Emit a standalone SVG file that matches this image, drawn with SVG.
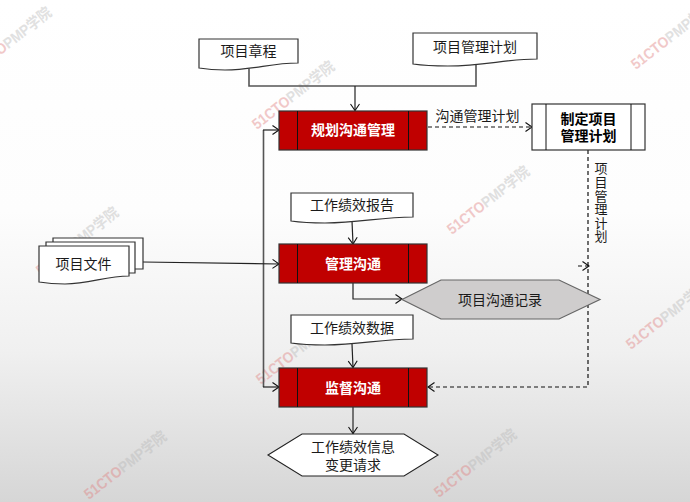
<svg xmlns="http://www.w3.org/2000/svg" width="690" height="502" viewBox="0 0 690 502">
<style>
text{font-family:"Noto Sans CJK SC","Noto Sans",sans-serif;font-size:14px;fill:#1a1a1a;text-anchor:middle}
.b{font-weight:700;fill:#000}
.w{fill:#fff;font-weight:700}
.doc{fill:#fff;stroke:#333;stroke-width:1.2}
.proc{fill:#c00000;stroke:#333;stroke-width:1.2}
.in{fill:none;stroke:#111;stroke-width:1}
.c{fill:none;stroke:#222;stroke-width:1.2}
.t{stroke:#555;stroke-width:1.6}
.d{stroke-dasharray:4 3;stroke:#111}
.a{marker-end:url(#ah)}
.wm{font-size:15px;font-weight:700;font-family:"Liberation Sans","Noto Sans CJK SC",sans-serif;fill:#b8b8b8;text-anchor:start;opacity:.42}
.wm tspan{fill:#e08080}
</style>
<defs>
<linearGradient id="bg" x1="0" y1="0" x2="0" y2="1">
<stop offset="0" stop-color="#fff"/><stop offset=".42" stop-color="#fdfdfd"/><stop offset=".7" stop-color="#f0f0f0"/><stop offset="1" stop-color="#d6d6d6"/>
</linearGradient>
<marker id="ah" markerUnits="userSpaceOnUse" markerWidth="12" markerHeight="12" refX="8" refY="6" orient="auto">
<path d="M1.500 1.500L8 6L1.500 10.500" fill="none" stroke="#111" stroke-width="1.1"/>
</marker>
</defs>
<rect width="690" height="502" fill="url(#bg)"/>
<g id="watermarks">
<text class="wm" textLength="100" lengthAdjust="spacingAndGlyphs" transform="translate(-26 76) rotate(-38)"><tspan>51CTO</tspan>PMP学院</text>
<text class="wm" textLength="100" lengthAdjust="spacingAndGlyphs" transform="translate(257 130) rotate(-38)"><tspan>51CTO</tspan>PMP学院</text>
<text class="wm" textLength="100" lengthAdjust="spacingAndGlyphs" transform="translate(636 70) rotate(-38)"><tspan>51CTO</tspan>PMP学院</text>
<text class="wm" textLength="100" lengthAdjust="spacingAndGlyphs" transform="translate(452 235) rotate(-38)"><tspan>51CTO</tspan>PMP学院</text>
<text class="wm" textLength="100" lengthAdjust="spacingAndGlyphs" transform="translate(631 350) rotate(-38)"><tspan>51CTO</tspan>PMP学院</text>
<text class="wm" textLength="100" lengthAdjust="spacingAndGlyphs" transform="translate(261 385) rotate(-38)"><tspan>51CTO</tspan>PMP学院</text>
<text class="wm" textLength="100" lengthAdjust="spacingAndGlyphs" transform="translate(89 500) rotate(-38)"><tspan>51CTO</tspan>PMP学院</text>
<text class="wm" textLength="100" lengthAdjust="spacingAndGlyphs" transform="translate(439 498) rotate(-38)"><tspan>51CTO</tspan>PMP学院</text>
<text class="wm" textLength="100" lengthAdjust="spacingAndGlyphs" transform="translate(41 276) rotate(-38)"><tspan>51CTO</tspan>PMP学院</text>
</g>
<g id="connectors">
<path class="c t" d="M249 68V86H476V64"/>
<path class="c a" d="M355 86V110.500"/>
<path class="c t" d="M263.500 130V387"/>
<path class="c a" d="M263 130H279"/>
<path class="c a" d="M263 387H279"/>
<path class="c a" d="M143 262L279 264"/>
<path class="c d a" d="M428 127H532"/>
<path class="c d a" d="M588 150V387H428"/>
<path class="c d a" d="M578 266H589"/>
<path class="c a" d="M352 221L353 244"/>
<path class="c a" d="M353 283V299H402"/>
<path class="c a" d="M352 344L353 367.500"/>
<path class="c t a" d="M353 407V433.500"/>
</g>
<g id="charter">
<path class="doc" d="M199 39H298V63C270 63 255 70 225 70C212 70 205 69 199 68Z"/>
<text x="248.500" y="56">项目章程</text>
</g>
<g id="pm-plan">
<path class="doc" d="M413 33H537V59C505 59 485 66 448 66C430 66 420 65 413 64Z"/>
<text x="475" y="52">项目管理计划</text>
</g>
<g id="plan-comm">
<rect class="proc" x="279" y="111" width="148" height="39"/>
<path class="in" d="M297.500 111V150M408.500 111V150"/>
<text class="w" x="353" y="135">规划沟通管理</text>
</g>
<text x="477.500" y="121">沟通管理计划</text>
<g id="develop-plan">
<rect x="532" y="104" width="113" height="46" fill="#fff" stroke="#333" stroke-width="1.2"/>
<path class="in" d="M546 104V150M631 104V150"/>
<text class="b"><tspan x="588.500" y="124">制定项目</tspan><tspan x="588.500" y="141">管理计划</tspan></text>
</g>
<text x="601" y="162" style="writing-mode:vertical-rl;text-anchor:start;font-size:13px;letter-spacing:.6px">项目管理计划</text>
<g id="project-docs">
<path class="doc" d="M53 238H143V269H53Z"/>
<path class="doc" d="M46 242H135V273H46Z"/>
<path class="doc" d="M39 246H129V276C105 276 90 284 65 284C52 284 45 283 39 282Z"/>
<text x="83.500" y="269">项目文件</text>
</g>
<g id="perf-report">
<path class="doc" d="M291 193H413V217C380 217 360 223 325 223C308 223 298 222 291 221Z"/>
<text x="352" y="210">工作绩效报告</text>
</g>
<g id="manage-comm">
<rect class="proc" x="279" y="244" width="148" height="39"/>
<path class="in" d="M297.500 244V283M408.500 244V283"/>
<text class="w" x="353" y="269">管理沟通</text>
</g>
<g id="comm-record">
<path fill="#cfcdcd" stroke="#666" stroke-width="1.2" d="M402 299.500L441 280H559L600 299.500L559 319H441Z"/>
<text x="500" y="305">项目沟通记录</text>
</g>
<g id="perf-data">
<path class="doc" d="M291 315H413V339C380 339 360 345 325 345C308 345 298 344 291 343Z"/>
<text x="352" y="333">工作绩效数据</text>
</g>
<g id="monitor-comm">
<rect class="proc" x="279" y="368" width="148" height="39"/>
<path class="in" d="M297.500 368V407M408.500 368V407"/>
<text class="w" x="353" y="393">监督沟通</text>
</g>
<g id="outputs">
<path fill="#fff" stroke="#222" stroke-width="1.1" d="M268 455L302 434H404L438 455L404 476H302Z"/>
<text><tspan x="353" y="452">工作绩效信息</tspan><tspan x="353" y="470">变更请求</tspan></text>
</g>
</svg>
